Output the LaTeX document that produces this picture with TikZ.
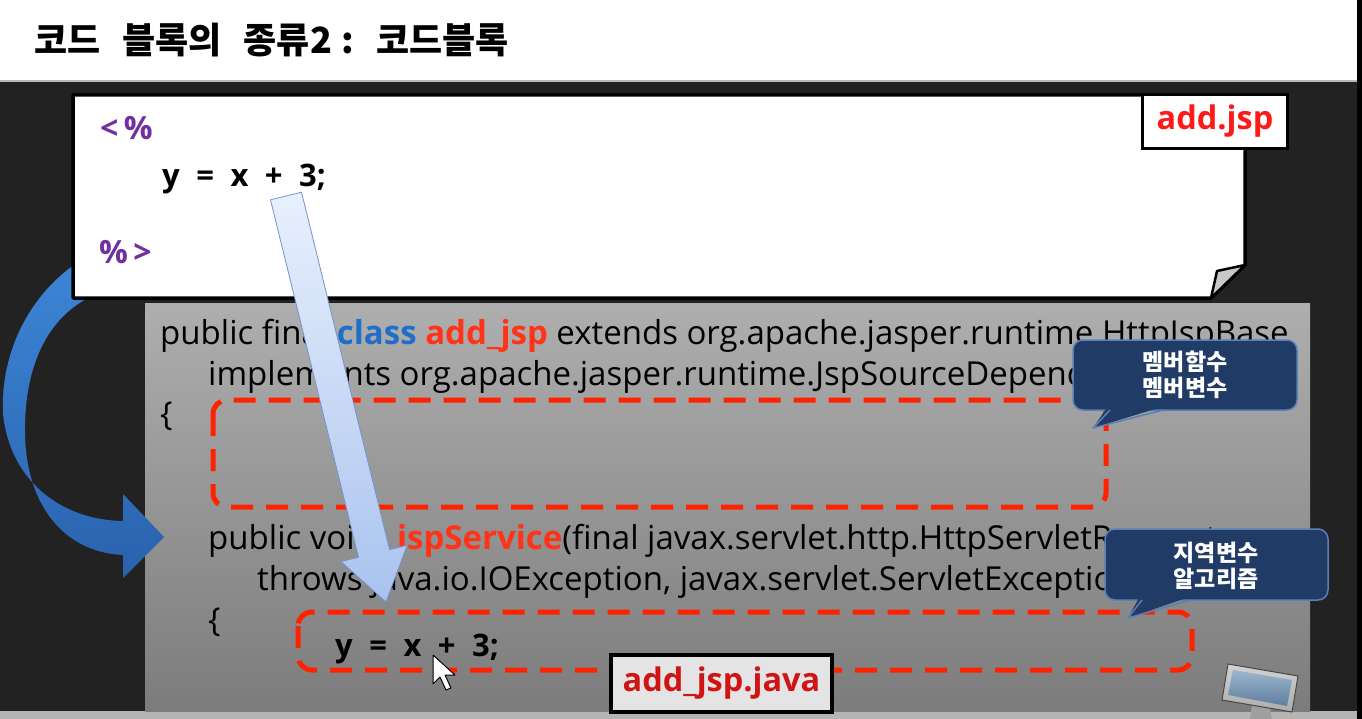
\documentclass[tikz,border=0pt]{standalone}
\usepackage{fontspec}
\setmainfont{Open Sans}
\newfontfamily\kr{Noto Sans CJK KR}
\usetikzlibrary{shapes.geometric}
\definecolor{bgdark}{HTML}{222222}
\definecolor{stripgray}{HTML}{B4B4B4}
\definecolor{codetop}{HTML}{AEAEAE}
\definecolor{codebot}{HTML}{7C7C7C}
\definecolor{jspurple}{HTML}{7030A0}
\definecolor{kwblue}{HTML}{1F6FC8}
\definecolor{kwred}{HTML}{FF3318}
\definecolor{labred}{HTML}{FF1A1A}
\definecolor{labred2}{HTML}{D01414}
\definecolor{labgray}{HTML}{E4E4E4}
\definecolor{dashred}{HTML}{FF2200}
\definecolor{navy}{HTML}{203B65}
\definecolor{navyedge}{HTML}{5A80B8}
\definecolor{arrowA}{HTML}{2A62AE}
\definecolor{arrowB}{HTML}{3C86D6}
\definecolor{paleA}{HTML}{E8F0FD}
\definecolor{paleB}{HTML}{A9C3EE}
\definecolor{paleedge}{HTML}{7393CC}
\definecolor{foldgray}{HTML}{C8C8C8}
\definecolor{screenA}{HTML}{9DB6CF}
\definecolor{screenB}{HTML}{5E7E9E}
\tikzset{
  code/.style={inner sep=0pt, anchor=base west, font=\fontsize{33}{40}\selectfont, text=black},
  jsptext/.style={inner sep=0pt, anchor=base west, font=\fontsize{31}{37}\selectfont\bfseries},
  filelabel/.style={draw=black, line width=3.5pt, inner sep=0pt, font=\fontsize{32.5}{38}\selectfont\bfseries},
  reddash/.style={draw=dashred, line width=5pt, dash pattern=on 22pt off 13pt, rounded corners=14pt},
  calloutbox/.style={fill=navy, draw=navyedge, line width=1.5pt, rounded corners=10pt, inner sep=0pt},
  callouttext/.style={text=white, align=center, font=\kr\bfseries\fontsize{23}{26}\selectfont, inner sep=0pt},
}
\newcommand{\gap}{\hspace{16.5pt}}
\begin{document}
\begin{tikzpicture}[x=1pt,y=-1pt]
\useasboundingbox (0,0) rectangle (1362,719);
% background
\fill[white] (0,0) rectangle (1362,80);
\fill[gray!55] (0,80) rectangle (1362,82);
\fill[bgdark] (0,82) rectangle (1362,711);
\fill[stripgray] (0,711) rectangle (1362,719);
\fill[black] (1357,0) rectangle (1362,719);
% title
\node[inner sep=0pt, anchor=west, font=\kr\bfseries\fontsize{36}{42}\selectfont] (title) at (34,40) {코드\hspace{22pt}블록의\hspace{22pt}종류2\hspace{10pt}:\hspace{22pt}코드블록};
% code box
\node[shade, top color=codetop, bottom color=codebot, minimum width=1165pt, minimum height=408pt, inner sep=0pt, anchor=north west] (codebox) at (145,303) {};
% curved arrow
\shade[left color=arrowB, right color=arrowA, shading angle=0]
  (88,256) .. controls (32,288) and (0,350) .. (3,414)
  .. controls (10,480) and (60,520) .. (123,521)
  -- (123,494) -- (164,537) -- (123,578) -- (123,555)
  .. controls (60,552) and (26,500) .. (25,434)
  .. controls (24,362) and (50,318) .. (88,298) -- cycle;
% note box
\coordinate (n1) at (73,95);
\coordinate (n2) at (1245,95);
\coordinate (n3) at (1245,265);
\coordinate (n4) at (1211,298);
\coordinate (n5) at (73,298);
\draw[fill=white, line width=3.5pt, line join=round] (n1) -- (n2) -- (n3) -- (n4) -- (n5) -- cycle;
\draw[fill=foldgray, line width=2.5pt, line join=round] (n3) -- (1217,271) -- (n4) -- cycle;
\node[filelabel, fill=white, text=labred, minimum width=145pt, minimum height=54pt] (addjsp) at (1215,121.5) {add.jsp};
% jsp text
\node[jsptext, text=jspurple, font=\fontsize{32}{38}\selectfont\bfseries] (open) at (100,140) {<\,\%};
\node[jsptext, text=black] (stmt1) at (162,187) {y\gap=\gap x\gap+\gap 3;};
\node[jsptext, text=jspurple, font=\fontsize{32}{38}\selectfont\bfseries] (close) at (99,264) {\%\,>};
% code text
\begin{scope}
\clip (145,303) rectangle (1310,711);
\node[code] (l1) at (160,344) {public final {\bfseries\color{kwblue}class} {\bfseries\color{kwred}add\_jsp} extends org.apache.jasper.runtime.HttpJspBase};
\node[code] (l2) at (208,385) {implements org.apache.jasper.runtime.JspSourceDependent};
\node[code] (l3) at (160,425) {\{};
\node[code] (l4) at (208,549) {public void {\bfseries\color{kwred}\_jspService}(final javax.servlet.http.HttpServletRequest request,};
\node[code] (l5) at (257,590) {throws java.io.IOException, javax.servlet.ServletException};
\node[code] (l6) at (208,631) {\{};
\node[jsptext, text=black] (stmt2) at (335,656) {y\gap=\gap x\gap+\gap 3;};
\end{scope}
% dashed boxes
\draw[reddash] (213,400) rectangle (1106,507);
\draw[reddash] (298,612) rectangle (1192,670);
\node[filelabel, fill=labgray, text=labred2, minimum width=221pt, minimum height=57pt] (addjava) at (721.5,683.5) {add\_jsp.java};
% pale arrow
\shade[top color=paleA, bottom color=paleB, draw=paleedge, line width=0.8pt, line join=round]
  (270.5,199.8) -- (358.5,557.3) -- (341,561.6) -- (386,602) -- (407.1,545.3) -- (389.6,549.6) -- (301.5,192.2) -- cycle;
% callouts
\node[calloutbox, minimum width=224pt, minimum height=70pt] (c1) at (1185,375) {};
\fill[navy] (1108,406) -- (1093,428) -- (1165,406) -- cycle;
\draw[navyedge, line width=1.5pt, line join=round] (1110,410) -- (1093,428) -- (1163,410);
\node[callouttext] (c1t) at (1185,375) {멤버함수\\멤버변수};
\node[calloutbox, minimum width=223pt, minimum height=71pt] (c2) at (1216.5,564.5) {};
\fill[navy] (1140,596) -- (1128,618) -- (1192,596) -- cycle;
\draw[navyedge, line width=1.5pt, line join=round] (1142,600) -- (1128,618) -- (1190,600);
\node[callouttext] (c2t) at (1216,566) {지역변수\\알고리즘};
% monitor icon
\fill[gray!75] (1252,705) -- (1270,708) -- (1272,719) -- (1250,719) -- cycle;
\shade[top color=gray!35, bottom color=gray!65, draw=gray!55!black, line width=1pt] (1228,664) -- (1298,676) -- (1292,712) -- (1222,700) -- cycle;
\shade[top color=screenA, bottom color=screenB] (1233,670) -- (1292,680) -- (1287,706) -- (1228,695) -- cycle;
% cursor
\draw[fill=white, line width=1pt, line join=round] (433,655) -- (433,684) -- (440,677) -- (446,690) -- (451,688) -- (445,675) -- (455,675) -- cycle;
\end{tikzpicture}
\end{document}
